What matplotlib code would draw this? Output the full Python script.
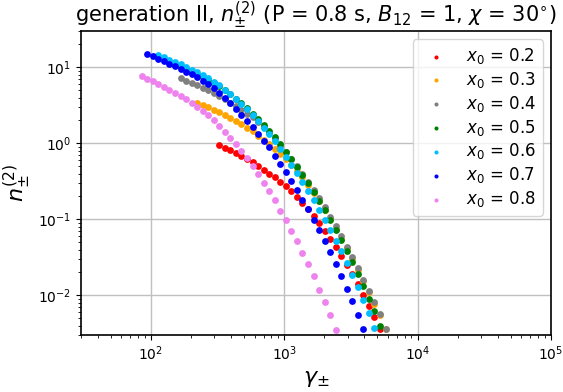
import matplotlib
matplotlib.use("Agg")
import matplotlib.pyplot as plt

labels = ["$x_0$ = 0.2", "$x_0$ = 0.3", "$x_0$ = 0.4", "$x_0$ = 0.5",
          "$x_0$ = 0.6", "$x_0$ = 0.7", "$x_0$ = 0.8"]
colors = ["red", "orange", "grey", "green", "deepskyblue", "blue", "violet"]

gamma_02 = [326.5, 359.2, 395.3, 434.9, 478.5, 526.6, 579.4, 637.6, 701.5, 771.9,
            849.3, 934.5, 1028.5, 1132, 1245, 1370, 1508, 1659, 1825, 2009,
            2210, 2432, 2676, 2944, 3239, 3565, 3923, 4317, 4749, 5226]
n_02 = [0.936, 0.873, 0.804, 0.746, 0.675, 0.617, 0.560, 0.502, 0.445, 0.400,
        0.356, 0.310, 0.273, 0.234, 0.196, 0.165, 0.136, 0.111, 0.0905, 0.0711,
        0.0553, 0.0429, 0.0332, 0.0251, 0.0188, 0.0139, 0.0101, 0.00715, 0.00513, 0.00360]

gamma_03 = [222.7, 245.1, 269.6, 296.7, 326.5, 359.2, 395.3, 434.9, 478.5, 526.6,
            579.4, 637.6, 701.5, 771.9, 849.3, 934.5, 1028.5, 1132, 1245, 1370,
            1508, 1659, 1825, 2009, 2210, 2432, 2676, 2944, 3239, 3565,
            3923, 4317, 4749, 5226, 5751]
n_03 = [3.43, 3.22, 2.97, 2.75, 2.57, 2.37, 2.17, 1.97, 1.78, 1.60,
        1.43, 1.25, 1.11, 0.970, 0.829, 0.717, 0.617, 0.522, 0.436, 0.358,
        0.285, 0.221, 0.173, 0.132, 0.101, 0.0755, 0.0558, 0.0413, 0.0300, 0.0215,
        0.0155, 0.0109, 0.00771, 0.00545, 0.00362]

gamma_04 = [167.2, 183.9, 202.4, 222.7, 245.1, 269.6, 296.7, 326.5, 359.2, 395.3,
            434.9, 478.5, 526.6, 579.4, 637.6, 701.5, 771.9, 849.3, 934.5, 1028.5,
            1132, 1245, 1370, 1508, 1659, 1825, 2009, 2210, 2432, 2676,
            2944, 3239, 3565, 3923, 4317, 4749, 5226, 5751]
n_04 = [7.17, 6.61, 6.22, 5.86, 5.40, 4.99, 4.60, 4.20, 3.78, 3.40,
        3.08, 2.78, 2.46, 2.23, 1.91, 1.62, 1.35, 1.13, 0.927, 0.762,
        0.617, 0.499, 0.398, 0.313, 0.243, 0.190, 0.144, 0.108, 0.0807, 0.0598,
        0.0436, 0.0317, 0.0228, 0.0161, 0.0114, 0.00807, 0.00570, 0.00360]

gamma_05 = [151.9, 167.2, 183.9, 202.4, 222.7, 245.1, 269.6, 296.7, 326.5, 359.2,
            395.3, 434.9, 478.5, 526.6, 579.4, 637.6, 701.5, 771.9, 849.3, 934.5,
            1028.5, 1132, 1245, 1370, 1508, 1659, 1825, 2009, 2210, 2432,
            2676, 2944, 3239, 3565, 3923, 4317, 4749, 5226]
n_05 = [10.72, 10.09, 9.41, 8.76, 8.09, 7.46, 6.81, 6.22, 5.60, 4.96,
        4.40, 3.84, 3.35, 2.88, 2.46, 2.10, 1.75, 1.46, 1.20, 0.970,
        0.774, 0.620, 0.492, 0.386, 0.303, 0.231, 0.174, 0.133, 0.0991, 0.0732,
        0.0533, 0.0377, 0.0270, 0.0188, 0.0131, 0.00902, 0.00615, 0.00397]

gamma_06 = [114.0, 125.5, 138.1, 151.9, 167.2, 183.9, 202.4, 222.7, 245.1, 269.6,
            296.7, 326.5, 359.2, 395.3, 434.9, 478.5, 526.6, 579.4, 637.6, 701.5,
            771.9, 849.3, 934.5, 1028.5, 1132, 1245, 1370, 1508, 1659, 1825,
            2009, 2210, 2432, 2676, 2944, 3239, 3565, 3923, 4317, 4749]
n_06 = [14.50, 13.65, 12.58, 11.74, 10.95, 10.18, 9.30, 8.60, 7.93, 7.17,
        6.47, 5.80, 5.08, 4.42, 3.84, 3.33, 2.81, 2.37, 1.97, 1.60,
        1.32, 1.06, 0.847, 0.665, 0.522, 0.404, 0.313, 0.238, 0.180, 0.134,
        0.0985, 0.0722, 0.0525, 0.0377, 0.0262, 0.0184, 0.0128, 0.00857, 0.00584, 0.00373]

gamma_07 = [94.2, 103.6, 114.0, 125.5, 138.1, 151.9, 167.2, 183.9, 202.4, 222.7,
            245.1, 269.6, 296.7, 326.5, 359.2, 395.3, 434.9, 478.5, 526.6, 579.4,
            637.6, 701.5, 771.9, 849.3, 934.5, 1028.5, 1132, 1245, 1370, 1508,
            1659, 1825, 2009, 2210, 2432, 2676, 2944, 3239, 3565, 3923]
n_07 = [14.81, 13.95, 12.97, 12.09, 11.05, 10.30, 9.50, 8.76, 8.09, 7.39,
        6.67, 5.98, 5.35, 4.53, 3.96, 3.35, 2.85, 2.39, 1.97, 1.65,
        1.31, 1.08, 0.881, 0.685, 0.535, 0.416, 0.317, 0.240, 0.180, 0.135,
        0.0985, 0.0715, 0.0514, 0.0366, 0.0258, 0.0179, 0.0122, 0.00832, 0.00556, 0.00357]

gamma_08 = [85.6, 94.2, 103.6, 114.0, 125.5, 138.1, 151.9, 167.2, 183.9, 202.4,
            222.7, 245.1, 269.6, 296.7, 326.5, 359.2, 395.3, 434.9, 478.5, 526.6,
            579.4, 637.6, 701.5, 771.9, 849.3, 934.5, 1028.5, 1132, 1245, 1370,
            1508, 1659, 1825, 2009, 2210, 2432]
n_08 = [7.69, 7.08, 6.55, 6.04, 5.56, 5.08, 4.64, 4.20, 3.84, 3.43,
        3.04, 2.67, 2.32, 2.00, 1.71, 1.42, 1.17, 0.964, 0.797, 0.632,
        0.507, 0.394, 0.303, 0.232, 0.178, 0.130, 0.0970, 0.0705, 0.0510, 0.0363,
        0.0257, 0.0177, 0.0119, 0.00814, 0.00550, 0.00352]

gammas = [gamma_02, gamma_03, gamma_04, gamma_05, gamma_06, gamma_07, gamma_08]
ns = [n_02, n_03, n_04, n_05, n_06, n_07, n_08]

fig = plt.figure(figsize=(5.63, 3.92), dpi=100)
ax = fig.add_axes([81 / 563, 57 / 392, 470 / 563, 304 / 392])

for g, n, c, lab in zip(gammas, ns, colors, labels):
    ax.scatter(g, n, s=24, color=c, linewidths=0, label=lab, zorder=3)

ax.set_xscale("log")
ax.set_yscale("log")
ax.set_xlim(30, 1e5)
ax.set_ylim(3e-3, 30)
ax.grid(True, which="major", color="#c0c0c0", linewidth=1.0)
ax.set_axisbelow(True)
for s in ax.spines.values():
    s.set_linewidth(1.2)

ax.set_title(r"generation II, $n_{\pm}^{(2)}$ (P = 0.8 s, $B_{12}$ = 1, $\chi$ = 30$^{\circ}$)",
             fontsize=15)
ax.set_xlabel(r"$\gamma_{\pm}$", fontsize=16)
ax.set_ylabel(r"$n_{\pm}^{(2)}$", fontsize=16)
ax.legend(loc="upper right", fontsize=12, markerscale=0.6, labelspacing=0.23)

fig.savefig("out.png", dpi=100)
